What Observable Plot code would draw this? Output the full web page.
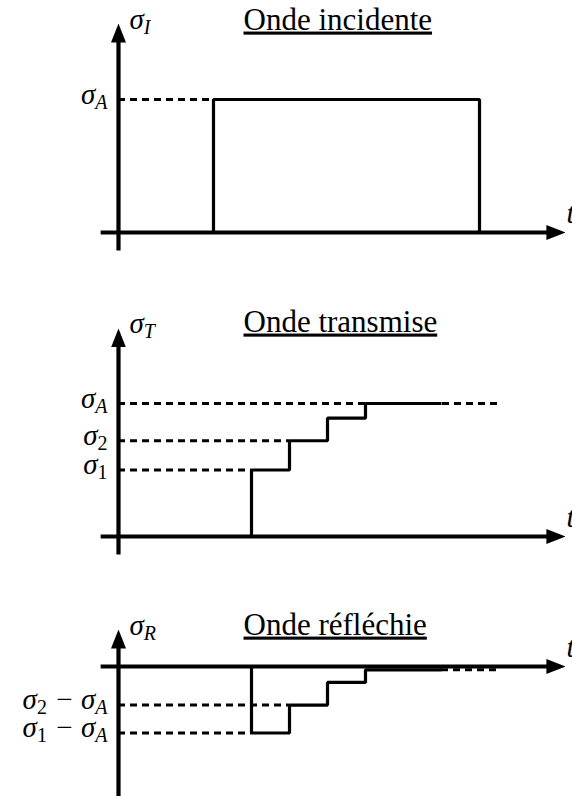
<!DOCTYPE html>
<html>
<head>
<meta charset="utf-8">
<script src="https://cdn.jsdelivr.net/npm/d3@7"></script>
<script src="https://cdn.jsdelivr.net/npm/@observablehq/plot@0.6"></script>
<style>
html, body { margin: 0; padding: 0; background: #fff; }
#chart { width: 572px; overflow: hidden; }
#chart svg { display: block; }
text[aria-label="title"] { text-decoration: underline; text-decoration-thickness: 1px; text-underline-offset: 3px; }
</style>
</head>
<body>
<div id="chart"></div>
<script>
// ---------------- data ----------------
const titles = ["Onde incidente", "Onde transmise", "Onde réfléchie"];
const axisNames = ["σ_I", "σ_T", "σ_R"];
const timeLabel = "t";

// incident wave: a rectangular pulse of height σ_A
const incidentTimes = [2.5, 9.5];
const incidentValues = [1, 0];

// transmitted and reflected waves: staircases
const stepTimes = [3.5, 4.5, 5.5, 6.5];
const transmittedValues = [0.5, 0.72, 0.89, 1.0];
const reflectedValues = [-0.5, -0.29, -0.12, -0.025];
const solidEnd = 8.5;
const dashedEnd = 10;

// value labels on the vertical axes
const incidentTicks = ["σ_A"];
const incidentTickValues = [1];
const transmittedTicks = ["σ_A", "σ_2", "σ_1"];
const transmittedTickValues = [1, 0.72, 0.5];
const reflectedTicks = ["σ_2 − σ_A", "σ_1 − σ_A"];
const reflectedTickValues = [-0.29, -0.5];

// ---------------- layout ----------------
const W = 572;
const X = {domain: [-0.5, 11.75], range: [99, 564.5]};
const PX_X = 38;          // px per time unit
const K = 133;            // px per stress unit
const HEAD = 13;          // px from line end to arrow tip
const axisStartX = -0.47, axisTipX = 11.76;
const SERIF = "Liberation Serif";
const MATH_SIZE = 29, SUB_SIZE = 20, SUB_SHIFT = 5;

const arrowHead = (color) => d3.create("svg:marker")
  .attr("viewBox", "0 -7.5 19 15")
  .attr("markerWidth", 19).attr("markerHeight", 15)
  .attr("markerUnits", "userSpaceOnUse")
  .attr("refX", 6).attr("refY", 0)
  .attr("orient", "auto")
  .call(m => m.append("path").attr("d", "M0,-7.5L19,0L0,7.5Z").attr("fill", color).attr("stroke", "none"))
  .node();

function renderMath(svg) {
  svg.querySelectorAll('text[aria-label="math"]').forEach(t => {
    const src = t.textContent;
    t.textContent = "";
    const parts = src.split(/_(\w)/);
    let lowered = false;
    parts.forEach((p, i) => {
      if (p === "") return;
      const ts = document.createElementNS("http://www.w3.org/2000/svg", "tspan");
      ts.textContent = p;
      if (i % 2 === 1) {
        ts.setAttribute("font-size", SUB_SIZE);
        ts.setAttribute("dy", SUB_SHIFT);
        if (/\d/.test(p)) ts.setAttribute("font-style", "normal");
        lowered = true;
      } else if (lowered) {
        ts.setAttribute("dy", -SUB_SHIFT);
        lowered = false;
      }
      t.appendChild(ts);
    });
  });
}

function panel(cfg) {
  const plot = Plot.plot({
    width: W,
    height: cfg.height,
    margin: 0,
    x: {...X, axis: null},
    y: {domain: [0, 1], range: [cfg.zero, cfg.zero - K], axis: null},
    marks: [
      // dashed guide lines
      Plot.ruleY(cfg.guides, {y: "y", x1: "x1", x2: "x2", stroke: "black", strokeWidth: 3, strokeDasharray: "7,5"}),
      // signal
      Plot.line(cfg.path, {x: "t", y: "v", curve: "step-after", stroke: "black", strokeWidth: 3.2,
        strokeLinejoin: "miter", strokeLinecap: "butt"}),
      // horizontal axis
      Plot.link([{x1: axisStartX, x2: axisTipX - HEAD / PX_X, y: 0}],
        {x1: "x1", x2: "x2", y1: "y", y2: "y", stroke: "black", strokeWidth: 4.2, markerEnd: arrowHead}),
      // vertical axis
      Plot.link([{x: 0, y1: cfg.bottom, y2: cfg.tip - HEAD / K}],
        {x1: "x", x2: "x", y1: "y1", y2: "y2", stroke: "black", strokeWidth: 4.2, markerEnd: arrowHead}),
      // axis names
      Plot.text([{x: 0, y: cfg.tip, s: cfg.name}], {x: "x", y: "y", text: "s", dx: 11, dy: 5,
        textAnchor: "start", lineAnchor: "bottom", fontSize: MATH_SIZE, fontFamily: SERIF, fontStyle: "italic",
        fill: "black", ariaLabel: () => "math"}),
      Plot.text([{x: axisTipX, y: 0, s: timeLabel}], {x: "x", y: "y", text: "s", dx: 1, dy: -10,
        textAnchor: "start", lineAnchor: "bottom", fontSize: MATH_SIZE, fontFamily: SERIF, fontStyle: "italic",
        fill: "black"}),
      // value labels
      Plot.text(cfg.ticks, {x: () => 0, y: "v", text: "s", dx: -11, dy: 4,
        textAnchor: "end", lineAnchor: "bottom", fontSize: MATH_SIZE, fontFamily: SERIF, fontStyle: "italic",
        fill: "black", ariaLabel: () => "math"}),
      // title
      Plot.text([{x: cfg.titleX, y: cfg.titleY, s: cfg.title}], {x: "x", y: "y", text: "s",
        textAnchor: "start", lineAnchor: "bottom", fontSize: 31, fontFamily: SERIF,
        fill: "black", ariaLabel: () => "title"})
    ]
  });
  renderMath(plot);
  return plot;
}

const titleX = 3.29;

// panel 1: incident
const p1Path = [{t: incidentTimes[0], v: 0}, ...incidentTimes.map((t, i) => ({t, v: incidentValues[i]}))];
const p1 = panel({
  height: 280, zero: 232, tip: 1.571, bottom: -0.135, titleX, titleY: 1.526,
  title: titles[0], name: axisNames[0],
  path: p1Path,
  guides: [{y: incidentValues[0], x1: 0, x2: incidentTimes[0]}],
  ticks: incidentTicks.map((s, i) => ({s, v: incidentTickValues[i]}))
});

// panel 2: transmitted
const p2Path = [{t: stepTimes[0], v: 0}, ...stepTimes.map((t, i) => ({t, v: transmittedValues[i]})),
  {t: solidEnd, v: transmittedValues[transmittedValues.length - 1]}];
const p2 = panel({
  height: 295, zero: 256, tip: 1.564, bottom: -0.135, titleX, titleY: 1.541,
  title: titles[1], name: axisNames[1],
  path: p2Path,
  guides: [
    {y: transmittedValues[3], x1: 0, x2: dashedEnd},
    {y: transmittedValues[1], x1: 0, x2: stepTimes[1]},
    {y: transmittedValues[0], x1: 0, x2: stepTimes[0]}
  ],
  ticks: transmittedTicks.map((s, i) => ({s, v: transmittedTickValues[i]}))
});

// panel 3: reflected
const p3Path = [{t: stepTimes[0], v: 0}, ...stepTimes.map((t, i) => ({t, v: reflectedValues[i]})),
  {t: solidEnd, v: reflectedValues[reflectedValues.length - 1]}];
const p3 = panel({
  height: 221, zero: 91, tip: 0.278, bottom: -0.98, titleX, titleY: 0.24,
  title: titles[2], name: axisNames[2],
  path: p3Path,
  guides: [
    {y: reflectedValues[1], x1: 0, x2: stepTimes[1]},
    {y: reflectedValues[0], x1: 0, x2: stepTimes[0]},
    {y: reflectedValues[3], x1: solidEnd, x2: dashedEnd}
  ],
  ticks: reflectedTicks.map((s, i) => ({s, v: reflectedTickValues[i]}))
});

const chart = document.getElementById("chart");
chart.append(p1, p2, p3);
</script>
</body>
</html>
